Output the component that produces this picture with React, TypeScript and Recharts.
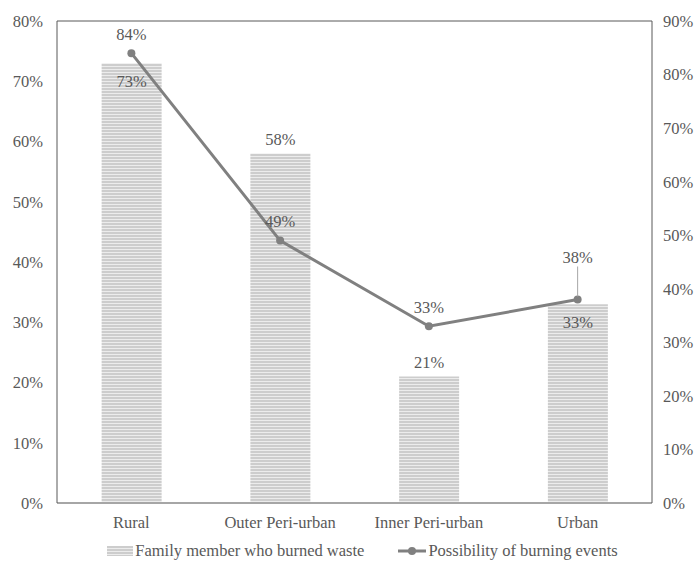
import { Bar, ComposedChart, LabelList, Legend, Line, ReferenceLine, XAxis, YAxis } from "recharts";

const categories = ["Rural", "Outer Peri-urban", "Inner Peri-urban", "Urban"];
const familyBurned = [73, 58, 21, 33];
const burningPossibility = [84, 49, 33, 38];
const leftTicks = [0, 10, 20, 30, 40, 50, 60, 70, 80];
const rightTicks = [0, 10, 20, 30, 40, 50, 60, 70, 80, 90];

const barName = "Family member who burned waste";
const lineName = "Possibility of burning events";

const data = categories.map((name, i) => ({
  name,
  burned: familyBurned[i],
  possibility: burningPossibility[i],
}));

const FONT = "Liberation Serif, Times New Roman, serif";
const FS = 16.5;
const TEXT = "#595959";
const LINE = "#808080";

// bars whose label sits inside the top of the bar
const insideBarLabels = [0, 3];

function BarLabel(props: any) {
  const { x, y, width, value, index } = props;
  const inside = insideBarLabels.includes(index);
  return (
    <text x={x + width / 2} y={inside ? y + 18 : y - 14} textAnchor="middle" dominantBaseline="central" fill={TEXT} fontSize={FS} fontFamily={FONT}>
      {value}%
    </text>
  );
}

function LineLabel(props: any) {
  const { x, y, value, index } = props;
  if (index === 3) {
    return (
      <g>
        <line x1={x} y1={y - 33} x2={x} y2={y - 3} stroke="#a6a6a6" strokeWidth={1} />
        <text x={x} y={y - 42} textAnchor="middle" dominantBaseline="central" fill={TEXT} fontSize={FS} fontFamily={FONT}>
          {value}%
        </text>
      </g>
    );
  }
  return (
    <text x={x} y={y - 19} textAnchor="middle" dominantBaseline="central" fill={TEXT} fontSize={FS} fontFamily={FONT}>
      {value}%
    </text>
  );
}

function ChartLegend() {
  return (
    <div style={{ display: "flex", justifyContent: "center", alignItems: "center", height: 22, paddingLeft: 30, transform: "translateY(2px)", fontFamily: FONT, fontSize: 16.5, color: TEXT }}>
      <svg width={26} height={12} style={{ marginRight: 2 }}>
        <rect x={0} y={1} width={26} height={10} fill="url(#stripes)" />
      </svg>
      <span style={{ marginRight: 34 }}>{barName}</span>
      <svg width={28} height={12} style={{ marginRight: 2 }}>
        <line x1={0} y1={6} x2={28} y2={6} stroke={LINE} strokeWidth={3} />
        <circle cx={14} cy={6} r={4} fill={LINE} />
      </svg>
      <span>{lineName}</span>
    </div>
  );
}

export default function App() {
  const tick = { fontSize: FS, fill: TEXT, fontFamily: FONT };
  return (
    <div style={{ position: "absolute", left: 0, top: 0, width: 695, height: 562, background: "#fff", fontFamily: FONT, overflow: "hidden" }}>
      <ComposedChart width={695} height={562} data={data} margin={{ top: 21, right: 0, left: 0, bottom: 2 }} barCategoryGap="30%">
        <defs>
          <pattern id="stripes" width={4} height={3} patternUnits="userSpaceOnUse">
            <rect width={4} height={3} fill="#cdcdcd" />
            <rect width={4} height={1} fill="#ececec" />
          </pattern>
        </defs>
        <XAxis dataKey="name" tick={tick} tickLine={false} tickSize={0} tickMargin={13} height={35} axisLine={{ stroke: "#a6a6a6", strokeWidth: 2 }} />
        <YAxis yAxisId="left" domain={[0, 80]} ticks={leftTicks} tickFormatter={(v) => `${v}%`} tick={tick} tickLine={false} tickSize={0} tickMargin={14} width={57} axisLine={{ stroke: "#595959" }} />
        <YAxis yAxisId="right" orientation="right" domain={[0, 90]} ticks={rightTicks} tickFormatter={(v) => `${v}%`} tick={{ ...tick, textAnchor: "start" }} tickLine={false} tickSize={0} tickMargin={11} width={43} axisLine={{ stroke: "#595959" }} />
        <ReferenceLine yAxisId="left" y={80} stroke="#595959" />
        <Bar yAxisId="left" dataKey="burned" name={barName} fill="url(#stripes)" isAnimationActive={false}>
          <LabelList dataKey="burned" content={BarLabel} />
        </Bar>
        <Line yAxisId="right" dataKey="possibility" name={lineName} stroke={LINE} strokeWidth={3} dot={{ r: 4, fill: LINE, stroke: "none" }} isAnimationActive={false}>
          <LabelList dataKey="possibility" content={LineLabel} />
        </Line>
        <Legend verticalAlign="bottom" height={22} content={ChartLegend} />
      </ComposedChart>
    </div>
  );
}
